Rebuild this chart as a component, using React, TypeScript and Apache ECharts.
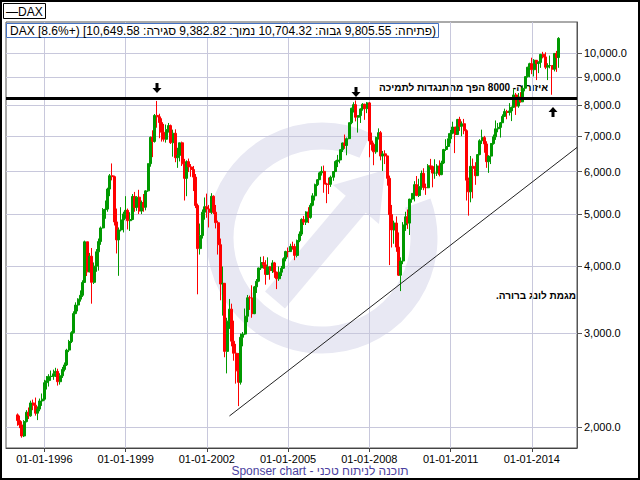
import { useEffect, useRef } from 'react';
import * as echarts from 'echarts';

// Monthly DAX candles: [open, close, low, high]
const y1995 = [
  [2107, 2056, 2010, 2120], [2056, 2018, 1990, 2100], [2018, 1924, 1910, 2050], [1924, 2047, 1915, 2060],
  [2047, 2131, 2040, 2150], [2131, 2098, 2070, 2175], [2098, 2218, 2090, 2240], [2218, 2197, 2150, 2250],
  [2197, 2122, 2100, 2270], [2122, 2160, 2060, 2185], [2160, 2237, 2140, 2260], [2237, 2254, 2190, 2310],
];
const y1996 = [
  [2254, 2420, 2240, 2450], [2420, 2440, 2350, 2490], [2440, 2486, 2380, 2510], [2486, 2487, 2440, 2550],
  [2487, 2514, 2450, 2560], [2514, 2541, 2480, 2580], [2541, 2430, 2390, 2570], [2430, 2493, 2400, 2520],
  [2493, 2562, 2470, 2590], [2562, 2612, 2540, 2640], [2612, 2784, 2600, 2800], [2784, 2889, 2760, 2910],
];
const y1997 = [
  [2889, 3001, 2870, 3020], [3001, 3258, 2990, 3290], [3258, 3380, 3250, 3420], [3380, 3467, 3290, 3480],
  [3467, 3525, 3430, 3600], [3525, 3725, 3500, 3760], [3725, 4438, 3720, 4460], [4438, 3899, 3830, 4440],
  [3899, 4170, 3890, 4230], [4170, 3727, 3400, 4320], [3727, 3995, 3700, 4060], [3995, 4250, 3900, 4300],
];
const y1998 = [
  [4250, 4442, 3920, 4500], [4442, 4710, 4380, 4740], [4710, 5096, 4700, 5130], [5096, 5108, 4900, 5300],
  [5108, 5568, 5050, 5600], [5568, 5897, 5400, 5940], [5897, 5874, 5780, 6217], [5874, 4834, 4760, 5900],
  [4834, 4474, 4220, 5120], [4474, 4671, 3833, 4720], [4671, 4875, 4640, 5150], [4875, 5002, 4620, 5050],
];
const y1999 = [
  [5002, 5081, 4900, 5400], [5081, 4859, 4680, 5120], [4859, 4884, 4650, 5040], [4884, 5393, 4870, 5450],
  [5393, 5145, 5050, 5500], [5145, 5378, 5070, 5400], [5378, 5065, 5000, 5550], [5065, 5255, 5000, 5300],
  [5255, 5149, 5050, 5450], [5149, 5525, 5080, 5540], [5525, 6210, 5500, 6220], [6210, 6958, 6130, 6980],
];
const y2000 = [
  [6958, 6835, 6388, 7170], [6835, 7644, 6800, 7690], [7644, 7599, 7250, 8136], [7599, 7414, 6930, 7700],
  [7414, 7110, 6830, 7550], [7110, 6898, 6830, 7370], [6898, 7190, 6800, 7350], [7190, 7316, 7100, 7400],
  [7316, 6798, 6760, 7350], [6798, 7078, 6400, 7190], [7078, 6372, 6250, 7200], [6372, 6434, 6100, 6650],
];
const y2001 = [
  [6434, 6795, 6270, 6800], [6795, 6208, 6150, 6830], [6208, 5830, 5300, 6340], [5830, 6265, 5400, 6300],
  [6265, 6123, 5990, 6350], [6123, 6058, 5870, 6200], [6058, 5862, 5520, 6150], [5862, 5188, 5130, 5940],
  [5188, 4309, 3540, 5230], [4309, 4559, 4200, 4800], [4559, 5040, 4500, 5100], [5040, 5160, 4880, 5370],
];
const y2002 = [
  [5160, 5108, 4920, 5460], [5108, 5039, 4720, 5200], [5039, 5397, 5000, 5470], [5397, 5041, 5000, 5420],
  [5041, 4818, 4700, 5200], [4818, 4383, 4200, 4860], [4383, 3700, 3450, 4500], [3700, 3712, 3230, 3990],
  [3712, 2769, 2700, 3700], [2769, 3153, 2519, 3200], [3153, 3321, 3050, 3470], [3321, 2893, 2830, 3400],
];
const y2003 = [
  [2893, 2747, 2660, 3160], [2747, 2547, 2410, 2860], [2547, 2424, 2188, 2750], [2424, 2942, 2400, 2990],
  [2942, 2983, 2830, 3010], [2983, 3221, 2970, 3330], [3221, 3487, 3140, 3530], [3487, 3484, 3310, 3520],
  [3484, 3257, 3200, 3680], [3257, 3655, 3250, 3670], [3655, 3745, 3560, 3780], [3745, 3965, 3730, 3970],
];
const y2004 = [
  [3965, 4058, 3930, 4160], [4058, 4018, 3950, 4170], [4018, 3856, 3690, 4100], [3856, 3985, 3850, 4150],
  [3985, 3921, 3770, 4000], [3921, 4052, 3880, 4100], [4052, 3895, 3800, 4070], [3895, 3785, 3620, 3900],
  [3785, 3893, 3750, 3990], [3893, 3960, 3830, 4000], [3960, 4126, 3950, 4150], [4126, 4256, 4080, 4270],
];
const y2005 = [
  [4256, 4254, 4150, 4330], [4254, 4350, 4250, 4400], [4350, 4349, 4290, 4440], [4349, 4185, 4100, 4400],
  [4185, 4460, 4150, 4480], [4460, 4587, 4430, 4640], [4587, 4886, 4550, 4910], [4886, 4829, 4770, 4960],
  [4829, 5044, 4770, 5060], [5044, 4929, 4810, 5150], [4929, 5193, 4900, 5240], [5193, 5408, 5170, 5470],
];
const y2006 = [
  [5408, 5674, 5300, 5700], [5674, 5796, 5640, 5810], [5796, 5970, 5800, 6000], [5970, 6009, 5900, 6140],
  [6009, 5692, 5480, 6160], [5692, 5683, 5240, 5720], [5683, 5682, 5450, 5850], [5682, 5859, 5620, 5900],
  [5859, 6004, 5770, 6010], [6004, 6269, 5990, 6300], [6269, 6310, 6120, 6450], [6310, 6597, 6220, 6600],
];
const y2007 = [
  [6597, 6789, 6530, 6800], [6789, 6716, 6620, 7040], [6716, 6917, 6440, 6950], [6917, 7409, 6900, 7410],
  [7409, 7884, 7360, 7900], [7884, 8007, 7740, 8090], [8007, 7584, 7450, 8151], [7584, 7638, 7100, 7650],
  [7638, 7862, 7400, 7880], [7862, 8020, 7800, 8060], [8020, 7871, 7500, 8040], [7871, 8067, 7720, 8100],
];
const y2008 = [
  [8067, 6851, 6384, 8100], [6851, 6748, 6570, 7100], [6748, 6535, 6170, 6800], [6535, 6949, 6480, 6980],
  [6949, 7097, 6890, 7230], [7097, 6418, 6300, 7150], [6418, 6479, 6020, 6560], [6479, 6422, 6200, 6580],
  [6422, 5831, 5650, 6400], [5831, 4988, 4014, 5900], [4988, 4669, 4330, 5200], [4669, 4810, 4400, 4860],
];
const y2009 = [
  [4810, 4338, 4250, 4950], [4338, 3843, 3830, 4620], [3843, 4085, 3589, 4150], [4085, 4770, 4030, 4830],
  [4770, 4941, 4650, 5050], [4941, 4809, 4690, 5100], [4809, 5332, 4570, 5340], [5332, 5465, 5250, 5470],
  [5465, 5675, 5280, 5760], [5675, 5415, 5400, 5890], [5415, 5626, 5380, 5820], [5626, 5957, 5550, 6030],
];
const y2010 = [
  [5957, 5608, 5540, 6090], [5608, 5598, 5430, 5700], [5598, 6154, 5590, 6200], [6154, 6136, 6050, 6340],
  [6136, 5964, 5610, 6160], [5964, 5966, 5820, 6330], [5966, 6148, 5890, 6200], [6148, 5925, 5880, 6300],
  [5925, 6229, 5910, 6290], [6229, 6601, 6200, 6620], [6601, 6688, 6560, 6900], [6688, 6914, 6680, 7080],
];
const y2011 = [
  [6914, 7078, 6780, 7180], [7078, 7273, 7050, 7440], [7273, 7041, 6500, 7260], [7041, 7514, 7030, 7530],
  [7514, 7294, 7150, 7600], [7294, 7376, 6990, 7450], [7376, 7159, 7050, 7530], [7159, 5785, 5300, 7200],
  [5785, 5502, 4966, 5850], [5502, 6141, 5260, 6420], [6141, 6089, 5350, 6350], [6089, 5898, 5670, 6250],
];
const y2012 = [
  [5898, 6458, 5900, 6470], [6458, 6856, 6440, 6900], [6856, 6947, 6760, 7190], [6947, 6761, 6510, 7000],
  [6761, 6264, 6100, 6840], [6264, 6416, 5970, 6440], [6416, 6772, 6200, 6790], [6772, 6971, 6740, 7040],
  [6971, 7216, 6880, 7480], [7216, 7260, 7110, 7400], [7260, 7406, 6950, 7430], [7406, 7612, 7400, 7680],
];
const y2013 = [
  [7612, 7776, 7600, 7870], [7776, 7742, 7520, 7830], [7742, 7795, 7640, 8060], [7795, 7914, 7460, 7940],
  [7914, 8349, 7900, 8560], [8349, 7959, 7660, 8420], [7959, 8276, 7900, 8420], [8276, 8104, 8080, 8450],
  [8104, 8594, 8100, 8700], [8594, 9033, 8480, 9040], [9033, 9406, 9000, 9420], [9406, 9552, 9010, 9590],
];
const y2014 = [
  [9552, 9306, 9130, 9800], [9306, 9692, 9040, 9740], [9692, 9556, 8900, 9650], [9556, 9603, 9170, 9650],
  [9603, 9943, 9380, 9960], [9943, 9833, 9770, 10050], [9833, 9407, 9330, 10030], [9407, 9470, 8900, 9570],
  [9470, 9474, 9360, 9890], [9474, 9327, 8355, 9480], [9327, 9981, 9240, 10000], [9981, 9806, 9220, 10090],
];
const y2015 = [[9805.55, 10649.58, 9382.82, 10704.32]];

const candleYears = [y1995, y1996, y1997, y1998, y1999, y2000, y2001, y2002, y2003, y2004,
  y2005, y2006, y2007, y2008, y2009, y2010, y2011, y2012, y2013, y2014, y2015];

// Axis range (months) and ticks
const axisStart = [1994, 8];
const axisEnd = [2015, 9];
const dataStart = '1995-01';
const labelYears = [1996, 1999, 2002, 2005, 2008, 2011, 2014];
const yTicks = [2000, 3000, 4000, 5000, 6000, 7000, 8000, 9000, 10000];
const yMin = 1827;
const yMax = 11427;
const supportLevel = 8220;
const trendStart = ['2002-11', 2097];
const trendEnd = ['2015-09', 6660];

// Header pieces in visual (left-to-right) order
const headerTokens = [
  'DAX [8.6%+) [10,649.58', ':סגירה', '9,382.82', ':נמוך', '10,704.32', ':גבוה', '9,805.55', ':פתיחה)',
];
const noteTop = 'איזור ה- 8000 הפך מהתנגדות לתמיכה';
const noteTrend = 'מגמת לונג ברורה.\u200F';
const footer = 'Sponser chart - תוכנה לניתוח טכני';
const legendText = '—DAX';

const FONT = '"Liberation Sans", Arial, sans-serif';

function buildMonths() {
  const out: string[] = [];
  let y = axisStart[0];
  let m = axisStart[1];
  while (y < axisEnd[0] || (y === axisEnd[0] && m <= axisEnd[1])) {
    out.push(`${y}-${String(m).padStart(2, '0')}`);
    m++;
    if (m > 12) { m = 1; y++; }
  }
  return out;
}

function arrowDown(cx: number, top: number) {
  return [[cx - 1.5, top], [cx + 1.5, top], [cx + 1.5, top + 5], [cx + 4.5, top + 5], [cx, top + 10], [cx - 4.5, top + 5], [cx - 1.5, top + 5]];
}
function arrowUp(cx: number, top: number) {
  return [[cx, top], [cx + 4.5, top + 5], [cx + 1.5, top + 5], [cx + 1.5, top + 10], [cx - 1.5, top + 10], [cx - 1.5, top + 5], [cx - 4.5, top + 5]];
}

function headerElements() {
  const font = `12px ${FONT}`;
  const ctx = document.createElement('canvas').getContext('2d');
  const widths = headerTokens.map((t) => {
    if (!ctx) return t.length * 6;
    ctx.font = font;
    return ctx.measureText(t).width;
  });
  const startX = 10;
  const endX = 436;
  const total = widths.reduce((a, b) => a + b, 0);
  const gap = Math.max(3, (endX - startX - total) / (headerTokens.length - 1));
  let x = startX;
  return headerTokens.map((t, i) => {
    const el = { type: 'text', z: 11, x, y: 31, style: { text: t, font, fill: '#000', verticalAlign: 'middle' } };
    x += widths[i] + gap;
    return el;
  });
}

export default function App() {
  const ref = useRef<HTMLDivElement>(null);
  useEffect(() => {
    if (!ref.current) return;
    const chart = echarts.init(ref.current, null, { renderer: 'svg' });
    const months = buildMonths();
    const candles = candleYears.flat();
    const startIdx = months.indexOf(dataStart);
    const data: any[] = months.map((_, i) => {
      const k = i - startIdx;
      return k >= 0 && k < candles.length ? candles[k] : '-';
    });
    const isLabelMonth = (_i: number, v: string) => {
      const [yy, mm] = v.split('-');
      return mm === '01' && labelYears.includes(Number(yy));
    };
    const wm = '#e8e8f3';

    chart.setOption({
      animation: false,
      backgroundColor: '#ffffff',
      grid: { left: 6, top: 22, right: 63, bottom: 32, show: true, borderColor: '#555', borderWidth: 1, backgroundColor: 'transparent' },
      xAxis: {
        type: 'category',
        data: months,
        boundaryGap: false,
        axisLine: { show: true, lineStyle: { color: '#444' } },
        axisTick: { show: true, interval: isLabelMonth, length: 4, lineStyle: { color: '#444' } },
        axisLabel: {
          interval: isLabelMonth, fontSize: 11, color: '#000', fontFamily: FONT, margin: 5,
          formatter: (v: string) => `01-01-${v.slice(0, 4)}`,
        },
        splitLine: { show: true, interval: isLabelMonth, lineStyle: { color: '#c8c8dc' } },
      },
      yAxis: {
        type: 'log',
        logBase: 10,
        position: 'right',
        min: yMin,
        max: yMax,
        axisLine: { show: true, lineStyle: { color: '#555' } },
        axisTick: { show: true, customValues: yTicks, length: 5, lineStyle: { color: '#555' } },
        axisLabel: {
          customValues: yTicks, fontSize: 11, color: '#000', fontFamily: FONT, margin: 7,
          formatter: (v: number) => Number(v).toLocaleString('en-US', { minimumFractionDigits: 1, maximumFractionDigits: 1 }),
        },
        splitLine: { show: true, lineStyle: { color: '#c8c8dc' } },
      },
      series: [{
        type: 'candlestick',
        data,
        barWidth: 2.5,
        itemStyle: { color: '#009900', color0: '#ff0000', borderColor: '#009900', borderColor0: '#ff0000', borderWidth: 1 },
        markLine: {
          silent: true,
          symbol: ['none', 'none'],
          label: { show: false },
          data: [
            { yAxis: supportLevel, lineStyle: { color: '#000', width: 3, type: 'solid' } },
            [{ coord: trendStart, lineStyle: { color: '#222', width: 1, type: 'solid' } }, { coord: trendEnd }],
          ],
        },
      }],
      graphic: [
        // watermark
        { type: 'arc', z: -10, silent: true, shape: { cx: 322, cy: 238, r: 102, startAngle: -0.35, endAngle: 5.15, clockwise: true }, style: { stroke: wm, lineWidth: 27, fill: 'none' } },
        { type: 'line', z: -10, silent: true, shape: { x1: 275, y1: 300, x2: 356, y2: 204 }, style: { stroke: wm, lineWidth: 26 } },
        { type: 'polygon', z: -10, silent: true, shape: { points: [[385, 170], [379, 224], [333, 185]] }, style: { fill: wm } },
        // frame
        { type: 'rect', shape: { x: 1, y: 1, width: 638, height: 478 }, style: { fill: 'none', stroke: '#000', lineWidth: 2 } },
        // legend box
        { type: 'rect', shape: { x: 3.5, y: 3.5, width: 42, height: 15 }, style: { fill: '#fff', stroke: '#000', lineWidth: 1 } },
        { type: 'text', x: 6, y: 11.5, style: { text: legendText, font: `12px ${FONT}`, fill: '#000', verticalAlign: 'middle' } },
        // header box
        { type: 'rect', z: 10, shape: { x: 6.5, y: 23.5, width: 432, height: 14 }, style: { fill: '#fff', stroke: '#4472c4', lineWidth: 1 } },
        ...headerElements(),
        // annotations
        { type: 'polygon', shape: { points: arrowDown(157, 83) }, style: { fill: '#000' } },
        { type: 'polygon', shape: { points: arrowDown(356, 87) }, style: { fill: '#000' } },
        { type: 'polygon', shape: { points: arrowUp(553, 107) }, style: { fill: '#000' } },
        { type: 'text', x: 548, y: 87, style: { text: noteTop, font: `bold 10px ${FONT}`, fill: '#000', align: 'right', verticalAlign: 'middle' } },
        { type: 'text', x: 576, y: 295, style: { text: noteTrend, font: `bold 10px ${FONT}`, fill: '#000', align: 'right', verticalAlign: 'middle' } },
        { type: 'text', x: 320, y: 471, style: { text: footer, font: `12px ${FONT}`, fill: '#4b3fa0', align: 'center', verticalAlign: 'middle' } },
      ],
    });
    return () => chart.dispose();
  }, []);
  return <div ref={ref} style={{ position: 'fixed', left: 0, top: 0, width: 640, height: 480, background: '#fff' }} />;
}
